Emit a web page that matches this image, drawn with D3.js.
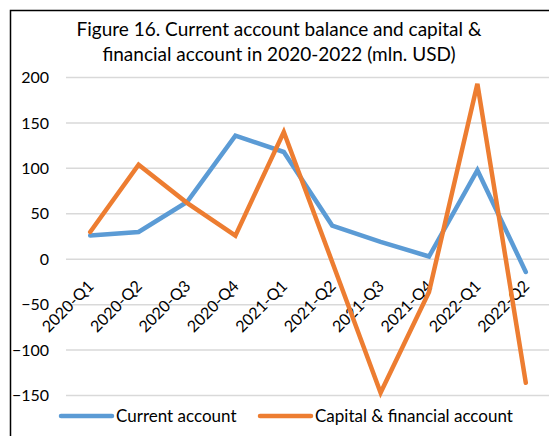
<!DOCTYPE html>
<html>
<head>
<meta charset="utf-8">
<script src="https://cdn.jsdelivr.net/npm/d3@7"></script>
<style>
  body { margin: 0; background: #fff; }
  svg { display: block; font-family: Lato, "Open Sans", sans-serif; }
</style>
</head>
<body>
<div id="chart"></div>
<script>
// quarters on the category axis
var quarters = ["2020-Q1", "2020-Q2", "2020-Q3", "2020-Q4", "2021-Q1",
                "2021-Q2", "2021-Q3", "2021-Q4", "2022-Q1", "2022-Q2"];

// mln. USD
var currentAccount = [26, 30, 63, 136, 118, 37, 19, 3, 98, -14];
var capitalFinancial = [30, 104, 62, 26, 140, -3, -147, -36, 193, -136];

var yTicks = [-150, -100, -50, 0, 50, 100, 150, 200];

var seriesNames = ["Current account", "Capital & financial account"];
var seriesColors = ["#5B9BD5", "#ED7D31"];

var width = 549, height = 436;

var svg = d3.select("#chart")
    .append("svg")
    .attr("width", width)
    .attr("height", height);

// chart frame (only left and top edges fall inside the picture)
svg.append("rect")
    .attr("x", 10.5)
    .attr("y", 10.5)
    .attr("width", 600)
    .attr("height", 600)
    .style("fill", "none")
    .style("stroke", "#000")
    .style("stroke-width", 1.5);

// title
var title = svg.append("text")
    .attr("text-anchor", "middle")
    .style("font-size", "19px")
    .style("fill", "#000");
title.append("tspan").attr("x", 279).attr("y", 36)
    .text("Figure 16. Current account balance and capital &");
title.append("tspan").attr("x", 279).attr("y", 61)
    .text("financial account in 2020-2022 (mln. USD)");

var x = d3.scalePoint()
    .domain(quarters)
    .range([66, 550])
    .padding(0.5);

var y = d3.scaleLinear()
    .domain([-150, 200])
    .range([395.5, 77.5]);

// gridlines
svg.append("g")
    .selectAll("line")
    .data(yTicks)
    .enter()
    .append("line")
    .attr("x1", 66)
    .attr("x2", 560)
    .attr("y1", function (d) { return y(d); })
    .attr("y2", function (d) { return y(d); })
    .style("stroke", "#d9d9d9")
    .style("stroke-width", 1.5);

// y axis labels
var yAxis = svg.append("g")
    .attr("transform", "translate(49,0)")
    .call(d3.axisLeft(y).tickValues(yTicks).tickSize(0).tickPadding(0));
yAxis.select(".domain").remove();
yAxis.selectAll("text")
    .style("font-family", "Lato, sans-serif")
    .style("font-size", "16px")
    .style("fill", "#000");

// x axis labels, rotated
var xAxis = svg.append("g")
    .attr("transform", "translate(0," + y(0) + ")")
    .call(d3.axisBottom(x).tickSize(0).tickPadding(0));
xAxis.select(".domain").remove();
xAxis.selectAll("text")
    .style("font-family", "Lato, sans-serif")
    .style("font-size", "16px")
    .style("fill", "#000")
    .attr("text-anchor", "end")
    .attr("dy", null)
    .attr("transform", "translate(4,28) rotate(-45)");

// lines
var line = d3.line()
    .x(function (d, i) { return x(quarters[i]); })
    .y(function (d) { return y(d); });

[currentAccount, capitalFinancial].forEach(function (vals, k) {
    svg.append("path")
        .datum(vals)
        .attr("d", line)
        .style("fill", "none")
        .style("stroke", seriesColors[k])
        .style("stroke-width", 4.5)
        .style("stroke-linejoin", "miter")
        .style("stroke-linecap", "round");
});

// legend
var legendX = [61, 260];
var legend = svg.append("g");
seriesNames.forEach(function (name, k) {
    legend.append("line")
        .attr("x1", legendX[k])
        .attr("x2", legendX[k] + 51)
        .attr("y1", 416)
        .attr("y2", 416)
        .style("stroke", seriesColors[k])
        .style("stroke-width", 4.5)
        .style("stroke-linecap", "round");
    legend.append("text")
        .attr("x", legendX[k] + 55)
        .attr("y", 422)
        .style("font-size", "17px")
        .style("fill", "#000")
        .text(name);
});
</script>
</body>
</html>
